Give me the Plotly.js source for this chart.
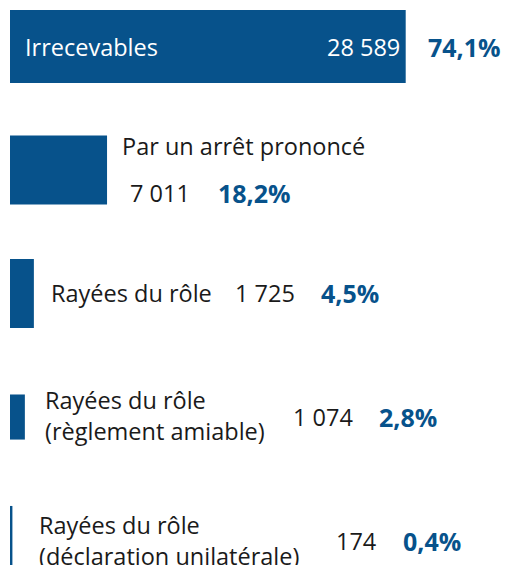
<!DOCTYPE html>
<html>
<head>
<meta charset="utf-8">
<script src="https://cdn.plot.ly/plotly-3.0.1.min.js"></script>
<style>html,body{margin:0;padding:0;background:#fff;}#chart{width:505px;height:565px;}</style>
</head>
<body>
<div id="chart"></div>
<script>
// Data
const categories = ["Irrecevables", "Par un arrêt prononcé", "Rayées du rôle", "Rayées du rôle<br>(règlement amiable)", "Rayées du rôle<br>(déclaration unilatérale)"];
const counts = [28589, 7011, 1725, 1074, 174];
const percents = ["74,1%", "18,2%", "4,5%", "2,8%", "0,4%"];
const countLabels = ["28 589", "7 011", "1 725", "1 074", "174"];

const BLUE = "#07528B";
const DARK = "#1a1a1a";
const FONT = "Open Sans, sans-serif";
const FS = 23.5, FB = 25;
const rows = categories.map((_, i) => i);

const trace = {
  type: "bar",
  orientation: "h",
  x: counts,
  y: rows,
  width: [0.59, 0.56, 0.56, 0.365, 0.56],
  marker: {color: BLUE},
  hoverinfo: "skip"
};

const W = 505;
const ann = [];
function add(text, px, row, dy, opts) {
  ann.push(Object.assign({
    text: text, x: px / W, xref: "paper", xanchor: "left",
    y: row + dy, yref: "y", yanchor: "middle", showarrow: false,
    font: {family: FONT, size: FS, color: DARK}
  }, opts || {}));
}
const boldBlue = {family: FONT, size: FB, color: BLUE, weight: "bold"};
const white = {family: FONT, size: FS, color: "#ffffff"};
// Row 0
add(categories[0], 23, 0, 0.008, {font: white});
add(countLabels[0], 402, 0, 0.008, {xanchor: "right", font: white});
add(percents[0], 426, 0, 0.008, {font: boldBlue});
// Row 1
add(categories[1], 120, 1, -0.195);
add(countLabels[1], 128, 1, 0.19);
add(percents[1], 216, 1, 0.19, {font: boldBlue});
// Row 2
add(categories[2], 49, 2, -0.005);
add(countLabels[2], 233, 2, -0.005);
add(percents[2], 319, 2, -0.005, {font: boldBlue});
// Row 3
add(categories[3], 43, 3, -0.01, {align: "left"});
add(countLabels[3], 291, 3, 0.0);
add(percents[3], 377, 3, 0.0, {font: boldBlue});
// Row 4
add(categories[4], 37, 4, 0.0, {align: "left"});
add(countLabels[4], 334, 4, 0.0);
add(percents[4], 401, 4, 0.0, {font: boldBlue});

const layout = {
  width: 505, height: 565,
  margin: {l: 0, r: 0, t: 0, b: 0},
  paper_bgcolor: "#ffffff", plot_bgcolor: "#ffffff",
  showlegend: false,
  xaxis: {range: [-722.5, 35763], visible: false, fixedrange: true},
  yaxis: {range: [4.198, -0.3765], visible: false, fixedrange: true},
  annotations: ann,
  font: {family: FONT}
};
Plotly.newPlot("chart", [trace], layout, {displayModeBar: false, staticPlot: true});
</script>
</body>
</html>
